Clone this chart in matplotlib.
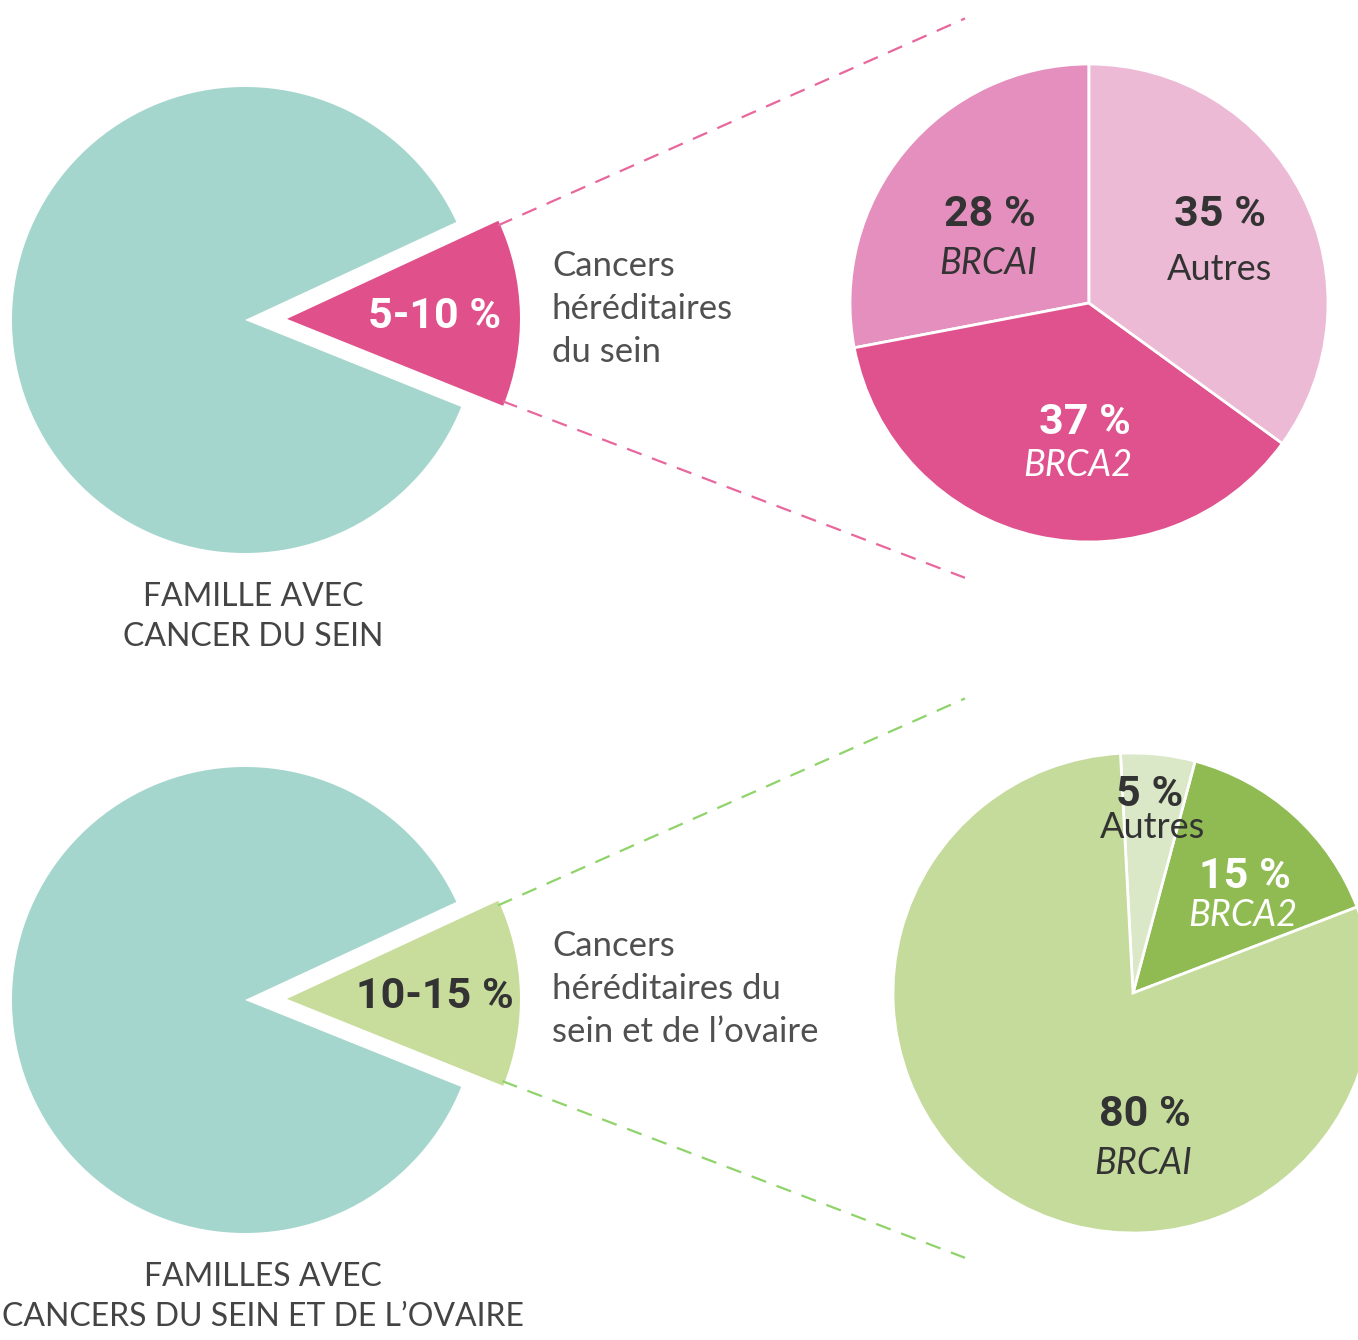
import numpy as np
import matplotlib
matplotlib.use("Agg")
from matplotlib import pyplot as plt

TEXT_FONT = ['Lato', 'DejaVu Sans']
NUM_FONT = ['Roboto', 'DejaVu Sans']
plt.rcParams['font.family'] = TEXT_FONT

# data
top_share = [87, 13]            # rest of families / hereditary wedge (as drawn)
top_label = "5-10 %"
top_caption = "Cancers\nhéréditaires\ndu sein"
top_title = "FAMILLE AVEC\nCANCER DU SEIN"
top_genes = ["BRCAI", "BRCA2", "Autres"]
top_values = [28, 37, 35]

bot_share = [87, 13]
bot_label = "10-15 %"
bot_caption = "Cancers\nhéréditaires du\nsein et de l\u2019ovaire"
bot_title = "FAMILLES AVEC\nCANCERS DU SEIN ET DE L\u2019OVAIRE"
bot_genes = ["BRCA2", "Autres", "BRCAI"]
bot_values = [15, 5, 80]

teal = "#a4d6cd"
pink_colors = ["#e48fbd", "#e0528d", "#ecbad5"]
green_colors = ["#90bb52", "#dbe8c8", "#c5db9c"]

W, H = 1358, 1340
fig = plt.figure(figsize=(W / 100, H / 100), dpi=100)
ax = fig.add_axes([0, 0, 1, 1])

R_SMALL = 233
EXPL = 42    # pie explode is in data units here
TILT = 1.5   # wedge sits slightly above the horizontal


def left_pie(cy, share, wedge_color, dash_color, label, label_color, caption, title, title_x):
    half = share[1] / sum(share) * 180
    ax.pie(share, colors=[teal, wedge_color], explode=[0, EXPL], startangle=half + TILT,
           center=(245, cy), radius=R_SMALL, wedgeprops=dict(linewidth=0))
    t = np.deg2rad(TILT)
    apex = np.array([245 + EXPL * np.cos(t), cy + EXPL * np.sin(t)])
    for sgn in (1, -1):
        a = np.deg2rad(sgn * (half - 1) + TILT)
        d = np.array([np.cos(a), np.sin(a)])
        p0 = apex + d * R_SMALL * 0.99
        p1 = apex + d * (965 - apex[0]) / d[0]
        ax.plot([p0[0], p1[0]], [p0[1], p1[1]], color=dash_color, lw=1.6,
                dashes=(7, 5))
    ax.text(apex[0] + 148, cy + 4, label, color=label_color, fontsize=31,
            fontweight='bold', family=NUM_FONT, ha='center', va='center')
    ax.text(552, cy + 70, caption, color='#505050', fontsize=25, ha='left',
            va='top', linespacing=1.42)
    ax.text(title_x, cy - 262, title, color='#444444', fontsize=23,
            ha='center', va='top', linespacing=1.42)


left_pie(H - 320, top_share, "#e0508a", "#e8679c", top_label, "white",
         top_caption, top_title, 253)
left_pie(H - 1000, bot_share, "#c8dd9c", "#8fd36a", bot_label, "#333333",
         bot_caption, bot_title, 263)

# right pies
R_BIG = 239
c1 = (1089, H - 303)
ax.pie(top_values, colors=pink_colors, startangle=90, center=c1, radius=R_BIG,
       wedgeprops=dict(edgecolor='white', linewidth=2))
c2 = (1133, H - 993)
ax.pie(bot_values, colors=green_colors, startangle=21, center=c2, radius=R_BIG + 1,
       wedgeprops=dict(edgecolor='white', linewidth=2))


def gene_label(c, num_off, name_off, value, name, color):
    ax.text(c[0] + num_off[0], c[1] + num_off[1], f"{value} %", color=color,
            fontsize=31, fontweight='bold', family=NUM_FONT,
            ha='center', va='center')
    ax.text(c[0] + name_off[0], c[1] + name_off[1], name, color=color, fontsize=26,
            style='italic' if name != 'Autres' else 'normal',
            ha='center', va='center')


gene_label(c1, (-99, 88), (-101, 40), top_values[0], top_genes[0], '#333333')
gene_label(c1, (-4, -119), (-11, -162), top_values[1], top_genes[1], 'white')
gene_label(c1, (131, 88), (131, 33), top_values[2], top_genes[2], '#333333')

gene_label(c2, (112, 116), (110, 78), bot_values[0], bot_genes[0], 'white')
gene_label(c2, (17, 198), (20, 165), bot_values[1], bot_genes[1], '#333333')
gene_label(c2, (12, -122), (10, -170), bot_values[2], bot_genes[2], '#333333')

ax.set_xlim(0, W)
ax.set_ylim(0, H)
ax.set_aspect('equal')
ax.axis('off')

fig.savefig("out.png", dpi=100, facecolor='white')
